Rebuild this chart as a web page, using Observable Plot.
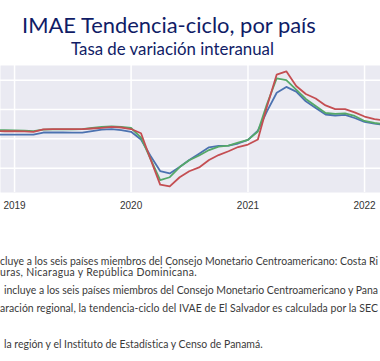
<!DOCTYPE html>
<html><head><meta charset="utf-8">
<script src="https://cdn.jsdelivr.net/npm/d3@7"></script>
<script src="https://cdn.jsdelivr.net/npm/@observablehq/plot@0.6"></script>
<style>
body{margin:0;background:#fff;width:380px;height:361px;overflow:hidden;position:relative;font-family:Lato,"Noto Sans",sans-serif}
.t{position:absolute;white-space:nowrap;line-height:1}
#title{font-size:21px;color:#101c66}
#subtitle{font-size:14px;color:#101c66}
.note{font-size:10px;color:#3a3a3a}
#chart{position:absolute;left:0;top:65px}
</style></head><body>
<div id="title" class="t">IMAE Tendencia-ciclo, por país</div>
<div id="subtitle" class="t">Tasa de variación interanual</div>
<div id="chart"></div>
<div class="t note" id="n1">cluye a los seis países miembros del Consejo Monetario Centroamericano: Costa Ri</div>
<div class="t note" id="n2">uras, Nicaragua y República Dominicana.</div>
<div class="t note" id="n3">incluye a los seis países miembros del Consejo Monetario Centroamericano y Pana</div>
<div class="t note" id="n4">aración regional, la tendencia-ciclo del IVAE de El Salvador es calculada por la SEC</div>
<div class="t note" id="n5">la región y el Instituto de Estadística y Censo de Panamá.</div>
<script>
// ---- data ----
const months = [
  "2018-11","2018-12",
  "2019-01","2019-02","2019-03","2019-04","2019-05","2019-06","2019-07","2019-08","2019-09","2019-10","2019-11","2019-12",
  "2020-01","2020-02","2020-03","2020-04","2020-05","2020-06","2020-07","2020-08","2020-09","2020-10","2020-11","2020-12",
  "2021-01","2021-02","2021-03","2021-04","2021-05","2021-06","2021-07","2021-08","2021-09","2021-10","2021-11","2021-12",
  "2022-01","2022-02","2022-03"
];
const seriesNames = ["Serie azul","Serie verde","Serie roja"];
const blueValues = [1.45,1.45,
  1.45,1.45,1.4,2.15,2.15,2.15,2.1,2.1,2.65,3.15,3.3,3.0,
  2.4,-0.25,-5.7,-11.0,-11.8,-9.6,-7.2,-5.1,-2.9,-2.4,-2.3,-1.6,
  -0.35,2.8,9.3,15.7,17.7,16.1,12.8,10.5,8.3,7.95,8.2,7.1,
  5.8,5.2,4.8];
const greenValues = [2.95,2.94,
  2.9,2.83,2.66,3.17,3.24,3.24,3.24,3.34,3.69,4.03,4.27,4.1,
  3.69,0.44,-6.7,-14.06,-13.1,-9.62,-7.3,-5.7,-3.82,-2.63,-2.29,-1.26,
  -0.34,2.49,11.7,20.65,20.0,16.8,13.6,11.2,8.8,8.5,8.7,7.8,
  6.1,5.4,5.1];
const redValues = [2.6,2.59,
  2.59,2.53,2.39,3.24,3.28,3.28,3.34,3.34,3.52,3.75,4.06,3.86,
  3.34,1.91,-6.7,-15.6,-16.2,-13.1,-11.05,-9.76,-7.24,-5.53,-4.23,-2.8,
  -1.95,-0.24,10.85,21.9,23.0,18.0,15.3,13.75,11.4,10.15,10.15,9.04,
  7.6,6.7,6.3];
const yearTicks = ["2019-01-01","2020-01-01","2021-01-01","2022-01-01"];
const yTicks = [-10,0,10,20];
const colors = ["#4C72B0","#55A868","#C44E52"];

const parse = d3.utcParse("%Y-%m");
const allSeries = [blueValues, greenValues, redValues];
const data = allSeries.flatMap((vals, i) => months.map((m, j) => ({date: parse(m), value: vals[j], serie: seriesNames[i]})));
const xTicks = yearTicks.map(s => new Date(s));

const chart = Plot.plot({
  width: 380, height: 157,
  marginLeft: 0, marginRight: 0, marginTop: 0, marginBottom: 30,
  style: {background: "transparent", fontFamily: "'Liberation Sans', Arial, sans-serif", fontSize: "10px", color: "#333"},
  x: {type: "utc", domain: [new Date("2018-11-18"), new Date("2022-02-20")], label: null},
  y: {domain: [-18.3, 25], label: null},
  color: {domain: seriesNames, range: colors},
  marks: [
    Plot.frame({fill: "#EAEAF2", stroke: null}),
    Plot.gridY(yTicks, {stroke: "white", strokeOpacity: 1, strokeWidth: 1.5}),
    Plot.gridX(xTicks, {stroke: "white", strokeOpacity: 1, strokeWidth: 1.5}),
    Plot.lineY(data, {x: "date", y: "value", z: "serie", stroke: "serie", strokeWidth: 1.8, clip: true}),
    Plot.axisX(xTicks, {tickSize: 0, tickPadding: 9, tickFormat: d3.utcFormat("%Y"), fill: "#333"}),
    Plot.axisY({ticks: []})
  ]
});
document.getElementById("chart").appendChild(chart);

// ---- text placement ----
function fitWidth(el, target) {
  const w = el.getBoundingClientRect().width;
  const fs = parseFloat(getComputedStyle(el).fontSize);
  return fs * target / w;
}
function place(el, left, baseline) {
  el.style.left = left + "px"; el.style.top = "0px";
  const m = document.createElement("span");
  m.style.cssText = "display:inline-block;width:0;height:0;vertical-align:baseline";
  el.appendChild(m);
  const b = m.getBoundingClientRect().top - el.getBoundingClientRect().top;
  el.style.top = (baseline - b) + "px";
}
const title = document.getElementById("title");
title.style.display = "inline-block";
title.style.fontSize = fitWidth(title, 294) + "px";
place(title, 22, 33.3);
const sub = document.getElementById("subtitle");
sub.style.fontSize = fitWidth(sub, 203) + "px";
place(sub, 71, 54.5);
const n5 = document.getElementById("n5");
const nfs = fitWidth(n5, 259);
// [id, left, baseline, target width]
const noteBase = [["n1",0,265,378],["n2",0,276,197],["n3",4,294,374],["n4",0,312,378],["n5",4,348.3,259]];
noteBase.forEach(([id, l, b, tw]) => {
  const el = document.getElementById(id);
  el.style.fontSize = nfs + "px";
  el.style.letterSpacing = "0px";
  const w = el.getBoundingClientRect().width;
  const n = el.textContent.length;
  el.style.letterSpacing = ((tw - w) / n) + "px";
  place(el, l, b);
});
</script>
</body></html>
